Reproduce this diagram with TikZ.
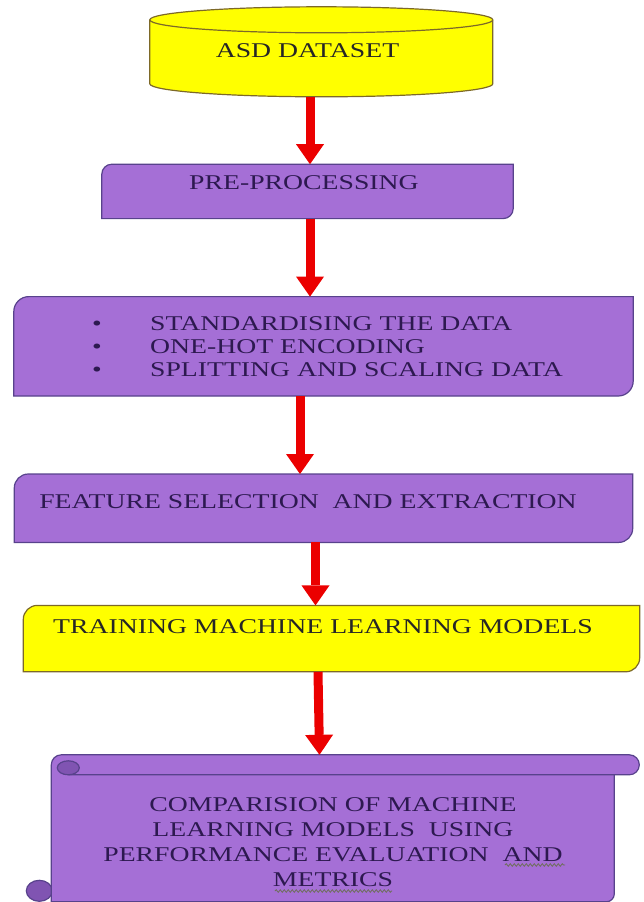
\documentclass[tikz,border=0pt]{standalone}
\usepackage{fontspec}
\setmainfont[FakeStretch=1.32]{Liberation Serif}
\usetikzlibrary{arrows.meta,positioning,backgrounds,decorations.pathmorphing}

\definecolor{boxpurple}{RGB}{165,111,214}
\definecolor{purpedge}{RGB}{88,66,140}
\definecolor{purptext}{RGB}{45,25,80}
\definecolor{curlpurple}{RGB}{128,84,178}
\definecolor{boxyellow}{RGB}{255,255,0}
\definecolor{yeledge}{RGB}{125,105,40}
\definecolor{flowred}{RGB}{235,0,0}
\definecolor{spellgrey}{RGB}{110,110,90}

\begin{document}
\begin{tikzpicture}[x=1pt, y=1pt,
    stage/.style={inner sep=0pt, align=center, font=\fontsize{21}{23}\selectfont},
    purp/.style={stage, text=purptext},
    yel/.style={stage, text=black!85},
    outline/.style={line width=1.2pt},
    squiggle/.style={draw=spellgrey, line width=0.8pt, decorate,
                     decoration={snake, amplitude=1.3pt, segment length=4pt}},
    arrow/.style={-{Triangle[length=20pt,width=28pt,line width=0pt]}, line width=9pt, draw=flowred}
]
\useasboundingbox (0,0) rectangle (643,-902);

\node[yel, minimum width=343pt, minimum height=90pt, text height=50pt, text depth=40pt]
    (data) at (321.5,-52) {ASD DATASET\hspace*{28pt}};
\node[purp, below=67pt of data, xshift=-14pt, minimum width=411pt, minimum height=54pt,
    text height=25pt, text depth=29pt] (prep) {PRE-PROCESSING\hspace*{7pt}};
\node[purp, below=78pt of prep, xshift=16pt, minimum width=619pt, minimum height=99pt, align=left]
    (bul) {\hspace*{8pt}\makebox[58pt][l]{\textbullet}STANDARDISING THE DATA\\
           \hspace*{8pt}\makebox[58pt][l]{\textbullet}ONE-HOT ENCODING\\
           \hspace*{8pt}\makebox[58pt][l]{\textbullet}SPLITTING AND SCALING DATA};
\node[purp, below=78pt of bul, minimum width=618pt, minimum height=68pt,
    text height=34pt, text depth=34pt] (feat) {FEATURE SELECTION \ AND EXTRACTION\hspace*{31pt}};
\node[yel, below=63pt of feat, xshift=8pt, minimum width=616pt, minimum height=66pt,
    text height=28pt, text depth=38pt] (train) {TRAINING MACHINE LEARNING MODELS\hspace*{17pt}};
\node[purp, below=110pt of train, xshift=1.5pt, minimum width=563pt, minimum height=120pt,
    font=\fontsize{21}{25}\selectfont]
    (cmp) {COMPARISION OF MACHINE\\ LEARNING MODELS \ USING\\
           PERFORMANCE EVALUATION \ AND\\ METRICS};

\begin{scope}[on background layer]
% database cylinder
\begin{scope}[shift={(data.north west)}, fill=boxyellow, draw=yeledge, outline]
\filldraw (0,-13) -- (0,-77) arc[start angle=180, end angle=360, x radius=171.5pt, y radius=13pt]
    -- (343,-13) arc[start angle=0, end angle=180, x radius=171.5pt, y radius=13pt] -- cycle;
\draw (0,-13) arc[start angle=180, end angle=360, x radius=171.5pt, y radius=13pt];
\end{scope}
% boxes with two round corners
\foreach \n/\f/\d/\rad in {prep/boxpurple/purpedge/10, bul/boxpurple/purpedge/15,
                           feat/boxpurple/purpedge/14, train/boxyellow/yeledge/14}
  \filldraw[fill=\f, draw=\d, outline] (\n.south west) -- ([yshift=-\rad pt]\n.north west)
      arc[start angle=180, end angle=90, radius=\rad pt] -- (\n.north east)
      -- ([yshift=\rad pt]\n.south east) arc[start angle=0, end angle=-90, radius=\rad pt] -- cycle;
% scroll
\begin{scope}[shift={(cmp.north west)}, draw=purpedge, outline]
\filldraw[fill=curlpurple] (-12,-109) ellipse[x radius=13pt, y radius=10.5pt];
\filldraw[fill=boxpurple] (0,-120) -- (0,17) arc[start angle=180, end angle=90, radius=10pt]
    -- (563,27) -- (563,-112) arc[start angle=0, end angle=-90, radius=8pt] -- cycle;
\filldraw[fill=boxpurple] (17,7) -- (578,7) arc[start angle=-90, end angle=90, radius=10pt] -- (17,27);
\filldraw[fill=curlpurple] (17,14) ellipse[x radius=11pt, y radius=7pt];
\end{scope}
\end{scope}

% spell-check marks
\draw[squiggle] ([shift={(172,-23)}]cmp.center) -- ([shift={(232,-23)}]cmp.center);
\draw[squiggle] ([shift={(-58,-49)}]cmp.center) -- ([shift={(59,-49)}]cmp.center);

\draw[arrow] ([xshift=-11.5pt]data.south) -- ([xshift=2.5pt]prep.north);
\draw[arrow] ([xshift=2.5pt]prep.south) -- ([xshift=-13.5pt]bul.north);
\draw[arrow] ([xshift=-23.5pt]bul.south) -- ([xshift=-23.5pt]feat.north);
\draw[arrow] ([xshift=-8pt]feat.south) -- ([xshift=-16pt]train.north);
\draw[arrow] ([xshift=-13.5pt]train.south) -- ([xshift=-13.5pt, yshift=27pt]cmp.north);
\end{tikzpicture}
\end{document}
